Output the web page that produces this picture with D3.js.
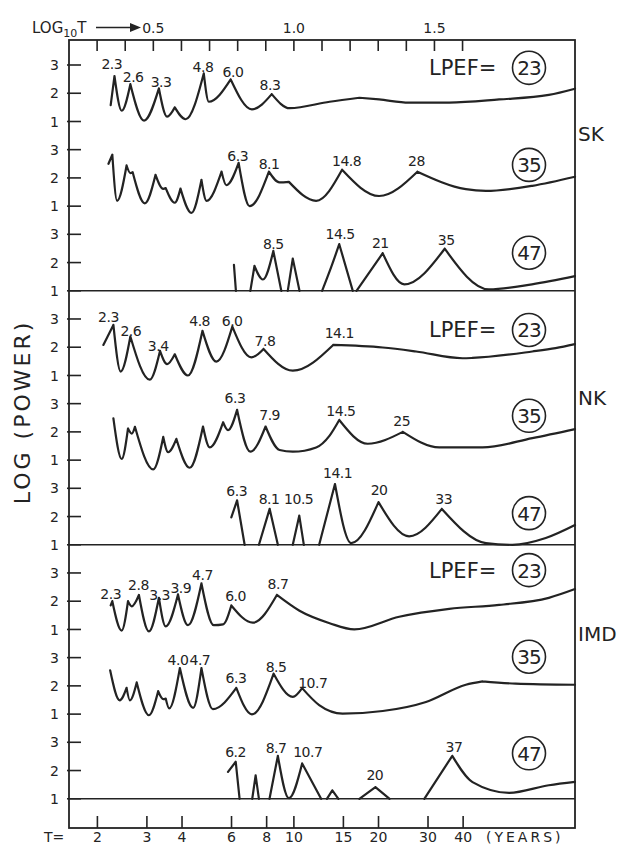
<!DOCTYPE html>
<html><head><meta charset="utf-8">
<script src="https://cdn.jsdelivr.net/npm/d3@7"></script>
<style>body{margin:0;background:#fff} svg{display:block}</style>
</head><body>
<svg id="c" width="620" height="846"></svg>
<script>
// ---------------- data ----------------
const stations = ["SK", "NK", "IMD"];
const lpefValues = ["23", "35", "47"];
const tTicks = [2, 3, 4, 6, 8, 10, 15, 20, 30, 40];
const logTicks = [0.3, 0.4, 0.5, 0.6, 0.7, 0.8, 0.9, 1.0, 1.1, 1.2, 1.3, 1.4, 1.5, 1.6];
const logTickLabels = [0.5, 1.0, 1.5];
const yTicks = [1, 2, 3];

// [T (years), log power]; null = gap (below plotted floor)
const SK23 = [[2.23,1.58],[2.30,2.61],[2.44,1.38],[2.62,2.32],[2.93,1.03],[3.31,2.17],[3.54,1.17],[3.77,1.50],[4.12,1.08],[4.78,2.70],[4.98,1.70],[5.96,2.49],[7.09,1.43],[8.34,1.97],[9.66,1.47],[13.4,1.70],[17.1,1.84],[20.1,1.78],[25.7,1.67],[35.7,1.67],[53.7,1.78],[80.7,1.94],[100,2.16]];
const SK35 = [[2.19,2.50],[2.26,2.82],[2.35,1.19],[2.54,2.44],[2.62,2.17],[2.67,2.20],[2.95,1.10],[3.22,2.11],[3.43,1.61],[3.50,1.64],[3.77,1.12],[3.95,1.62],[4.32,0.76],[4.69,1.93],[4.89,1.19],[5.53,2.22],[5.75,1.74],[6.36,2.53],[6.96,1.00],[8.15,2.22],[8.89,1.84],[9.60,1.86],[12.0,1.19],[14.84,2.29],[20.1,1.36],[27.5,2.22],[40.9,1.60],[48.2,1.54],[70.5,1.72],[100,2.04]];
const SK47 = [[6.12,1.92],[6.22,1.00],null,[7.00,1.00],[7.24,1.88],[7.76,1.40],[8.45,2.41],[9.02,1.00],null,[9.51,1.00],[9.91,2.14],[10.47,1.00],null,[12.6,1.00],[13.55,1.82],[14.5,2.65],[16.2,1.00],null,[16.7,1.00],[20.7,2.33],[24.7,1.23],[34.4,2.49],[49.4,1.05],[70.3,1.23],[100,1.52]];
const NK23 = [[2.10,2.08],[2.28,2.79],[2.42,1.14],[2.62,2.38],[3.07,0.85],[3.34,1.87],[3.54,1.40],[3.77,1.75],[4.20,1.00],[4.73,2.58],[5.30,1.49],[6.04,2.73],[7.06,1.64],[7.80,1.94],[9.91,1.17],[13.8,2.08],[20.7,1.99],[27.2,1.85],[39.8,1.61],[43.2,1.62],[70.5,1.85],[85.3,1.97],[100,2.11]];
const NK35 = [[2.28,2.48],[2.44,1.04],[2.57,2.12],[2.65,1.94],[2.72,2.18],[3.16,0.67],[3.43,1.82],[3.57,1.28],[3.82,1.75],[4.26,0.73],[4.75,2.19],[5.02,1.45],[5.60,2.34],[5.83,2.06],[6.28,2.78],[7.00,1.30],[7.93,2.19],[8.89,1.36],[9.91,1.30],[12.0,1.45],[13.4,1.87],[14.5,2.42],[18.3,1.58],[24.4,2.00],[32.9,1.45],[46.9,1.45],[70.5,1.78],[100,2.10]];
const NK47 = [[5.99,1.97],[6.28,2.57],[6.68,1.00],null,[7.51,1.00],[8.20,2.27],[8.77,1.00],null,[9.91,1.00],[10.45,2.03],[10.85,1.00],null,[12.3,1.00],[14.0,3.15],[16.0,1.06],[20.0,2.51],[25.7,1.30],[33.6,2.27],[48.2,1.06],[59.9,1.00],[78.7,1.24],[100,1.70]];
const IMD23 = [[2.23,1.85],[2.26,2.00],[2.44,0.96],[2.57,2.00],[2.65,1.82],[2.81,2.22],[3.05,0.93],[3.31,2.12],[3.50,1.11],[3.87,2.24],[4.20,1.15],[4.69,2.63],[5.19,1.15],[5.60,1.18],[5.99,1.85],[7.14,1.24],[8.70,2.22],[10.47,1.66],[13.4,1.22],[16.4,1.00],[23.7,1.45],[35.7,1.73],[53.7,1.87],[80.7,2.12],[100,2.43]];
const IMD35 = [[2.22,2.55],[2.40,1.49],[2.54,1.93],[2.61,1.49],[2.76,2.12],[3.05,0.96],[3.29,1.81],[3.43,1.53],[3.50,1.55],[3.60,1.20],[3.93,2.63],[4.38,1.22],[4.69,2.63],[5.15,1.18],[6.24,1.93],[7.09,0.99],[8.47,2.43],[9.91,1.61],[10.7,1.92],[12.3,1.32],[14.9,1.02],[20.7,1.11],[29.5,1.43],[40.9,2.04],[46.9,2.16],[61.5,2.08],[100,2.04]];
const IMD47 = [[5.83,1.95],[6.21,2.31],[6.41,1.00],null,[7.11,1.00],[7.31,1.83],[7.51,1.00],null,[8.19,1.00],[8.77,2.52],[9.60,1.02],[10.7,2.25],[12.5,1.00],null,[13.1,1.00],[13.7,1.30],[14.4,1.00],null,[17.1,1.00],[19.5,1.41],[21.9,1.00],null,[29.1,1.00],[36.6,2.52],[43.2,1.59],[58.3,1.21],[80.7,1.48],[100,1.60]];

// peak labels: [text, T at label centre, log power at label baseline]
const SK23_peaks = [["2.3",2.25,2.86],["2.6",2.68,2.39],["3.3",3.37,2.21],["4.8",4.75,2.74],["6.0",6.07,2.59],["8.3",8.22,2.12]];
const SK35_peaks = [["6.3",6.31,2.61],["8.1",8.16,2.32],["14.8",15.4,2.43],["28",27.3,2.42]];
const SK47_peaks = [["8.5",8.45,2.47],["14.5",14.6,2.82],["21",20.3,2.51],["35",34.8,2.62]];
const NK23_peaks = [["2.3",2.19,2.90],["2.6",2.63,2.41],["3.4",3.29,1.87],["4.8",4.62,2.75],["6.0",6.03,2.75],["7.8",7.89,2.05],["14.1",14.5,2.34]];
const NK35_peaks = [["6.3",6.17,3.01],["7.9",8.2,2.42],["14.5",14.7,2.57],["25",24.2,2.22]];
const NK47_peaks = [["6.3",6.26,2.73],["8.1",8.16,2.43],["10.5",10.4,2.43],["14.1",14.3,3.35],["20",20.1,2.76],["33",34.1,2.43]];
const IMD23_peaks = [["2.3",2.23,2.08],["2.8",2.80,2.40],["3.3",3.33,2.04],["3.9",3.96,2.28],["4.7",4.73,2.75],["6.0",6.2,2.01],["8.7",8.78,2.42]];
const IMD35_peaks = [["4.0",3.87,2.74],["4.7",4.63,2.74],["6.3",6.22,2.09],["8.5",8.64,2.50],["10.7",11.67,1.94]];
const IMD47_peaks = [["6.2",6.2,2.49],["8.7",8.64,2.61],["10.7",11.2,2.49],["20",19.4,1.66],["37",37.1,2.67]];

const curves = [SK23, SK35, SK47, NK23, NK35, NK47, IMD23, IMD35, IMD47];
const peakLabels = [SK23_peaks, SK35_peaks, SK47_peaks, NK23_peaks, NK35_peaks, NK47_peaks, IMD23_peaks, IMD35_peaks, IMD47_peaks];

// ---------------- layout ----------------
const INK = "#232323";
const FONT = "'DejaVu Sans', sans-serif";
const L = 69, R = 575, TOP = 40, BOT = 828;
const svg = d3.select("#c");

const x = d3.scaleLog().domain([Math.pow(10, 0.2), 100]).range([L, R]);
const rowTop = i => 65 + 84.66 * i;
const ys = curves.map((c, i) => d3.scaleLinear().domain([1, 3]).range([rowTop(i) + 56.5, rowTop(i)]));

// circle positions (in each row's value units)
const circleV = [2.90, 2.46, 2.35, 2.61, 2.57, 2.12, 3.10, 3.03, 2.61];

// frame
svg.append("rect").attr("x", L).attr("y", TOP).attr("width", R - L).attr("height", BOT - TOP)
  .attr("fill", "none").attr("stroke", INK).attr("stroke-width", 1.8);

// baselines of each station block
[2, 5, 8].forEach(i => {
  svg.append("line").attr("x1", L).attr("x2", R).attr("y1", ys[i](1)).attr("y2", ys[i](1))
    .attr("stroke", INK).attr("stroke-width", 1.6);
});

// top log10 T ticks
const lx = d3.scaleLinear().domain([0.2, 2.0]).range([L, R]);
svg.append("g").selectAll("line").data(logTicks).join("line")
  .attr("x1", d => lx(d)).attr("x2", d => lx(d)).attr("y1", TOP).attr("y2", TOP + 11)
  .attr("stroke", INK).attr("stroke-width", 1.6);
svg.append("g").selectAll("text").data(logTickLabels).join("text")
  .attr("x", d => lx(d)).attr("y", 33).attr("text-anchor", "middle")
  .attr("font-family", FONT).attr("font-size", 14).attr("fill", INK)
  .text(d => d.toFixed(1));

// header "LOG10T ->"
const hdr = svg.append("text").attr("x", 32).attr("y", 33).attr("font-family", FONT)
  .attr("font-size", 15).attr("fill", INK);
hdr.append("tspan").text("LOG");
hdr.append("tspan").attr("font-size", 11).attr("dy", 4).text("10");
hdr.append("tspan").attr("dy", -4).text("T");
svg.append("line").attr("x1", 96).attr("x2", 132).attr("y1", 27.5).attr("y2", 27.5)
  .attr("stroke", INK).attr("stroke-width", 1.6);
svg.append("path").attr("d", "M130,23 L141,27.5 L130,32 Z").attr("fill", INK);

// bottom T ticks
svg.append("g").selectAll("line").data(tTicks).join("line")
  .attr("x1", d => x(d)).attr("x2", d => x(d)).attr("y1", BOT - 12).attr("y2", BOT)
  .attr("stroke", INK).attr("stroke-width", 1.6);
svg.append("g").selectAll("text").data(tTicks).join("text")
  .attr("x", d => x(d)).attr("y", 842).attr("text-anchor", "middle")
  .attr("font-family", FONT).attr("font-size", 14).attr("fill", INK).text(d => d);
svg.append("text").attr("x", 44).attr("y", 842).attr("font-family", FONT).attr("font-size", 14)
  .attr("fill", INK).text("T=");
svg.append("text").attr("x", 486).attr("y", 842).attr("font-family", FONT).attr("font-size", 14)
  .attr("letter-spacing", 3).attr("fill", INK).text("(YEARS)");

// y ticks for every row
ys.forEach(y => {
  const g = svg.append("g");
  g.selectAll("line").data(yTicks).join("line")
    .attr("x1", L - 2).attr("x2", L + 12).attr("y1", d => y(d)).attr("y2", d => y(d))
    .attr("stroke", INK).attr("stroke-width", 1.6);
  g.selectAll("text").data(yTicks).join("text")
    .attr("x", 59).attr("y", d => y(d)).attr("dy", "0.36em").attr("text-anchor", "end")
    .attr("font-family", FONT).attr("font-size", 14).attr("fill", INK).text(d => d);
});

// y-axis title
svg.append("text").attr("transform", "translate(30,412) rotate(-90)").attr("text-anchor", "middle")
  .attr("font-family", FONT).attr("font-size", 22).attr("letter-spacing", 3).attr("fill", INK)
  .text("LOG (POWER)");

// curves: sharp cusps at peaks, smooth troughs
function pathFor(data, y) {
  const line = d3.line().x(d => x(d[0])).y(d => y(d[1])).curve(d3.curveMonotoneX);
  const runs = []; let cur = [];
  data.forEach(d => { if (d == null) { if (cur.length) runs.push(cur); cur = []; } else cur.push(d); });
  if (cur.length) runs.push(cur);
  let out = "";
  runs.forEach(r => {
    const cuts = [0];
    for (let i = 1; i < r.length - 1; i++) if (r[i][1] > r[i - 1][1] && r[i][1] > r[i + 1][1]) cuts.push(i);
    cuts.push(r.length - 1);
    for (let k = 0; k < cuts.length - 1; k++) {
      const seg = r.slice(cuts[k], cuts[k + 1] + 1);
      if (seg.length > 1) out += line(seg);
    }
  });
  return out;
}
curves.forEach((c, i) => {
  svg.append("path").attr("d", pathFor(c, ys[i])).attr("fill", "none").attr("stroke", INK)
    .attr("stroke-width", 2.2).attr("stroke-linecap", "round").attr("stroke-linejoin", "round");
});

// peak labels
peakLabels.forEach((pl, i) => {
  svg.append("g").selectAll("text").data(pl).join("text")
    .attr("x", d => x(d[1])).attr("y", d => ys[i](d[2])).attr("text-anchor", "middle")
    .attr("font-family", FONT).attr("font-size", 14).attr("letter-spacing", -0.5).attr("fill", INK)
    .text(d => d[0]);
});

// LPEF circles
const CX = 529;
curves.forEach((c, i) => {
  const cy = ys[i](circleV[i]);
  svg.append("circle").attr("cx", CX).attr("cy", cy).attr("r", 16.5).attr("fill", "none")
    .attr("stroke", INK).attr("stroke-width", 1.6);
  svg.append("text").attr("x", CX).attr("y", cy + 7.5).attr("text-anchor", "middle")
    .attr("font-family", FONT).attr("font-size", 20).attr("letter-spacing", -1).attr("fill", INK)
    .text(lpefValues[i % 3]);
  if (i % 3 === 0) {
    svg.append("text").attr("x", 429).attr("y", cy + 7.5).attr("font-family", FONT)
      .attr("font-size", 21).attr("fill", INK).text("LPEF=");
  }
});

// station labels
const stationY = [141, 405, 641];
stations.forEach((s, k) => {
  svg.append("text").attr("x", 578).attr("y", stationY[k]).attr("font-family", FONT)
    .attr("font-size", 20).attr("fill", INK).text(s);
});
</script>
</body></html>
